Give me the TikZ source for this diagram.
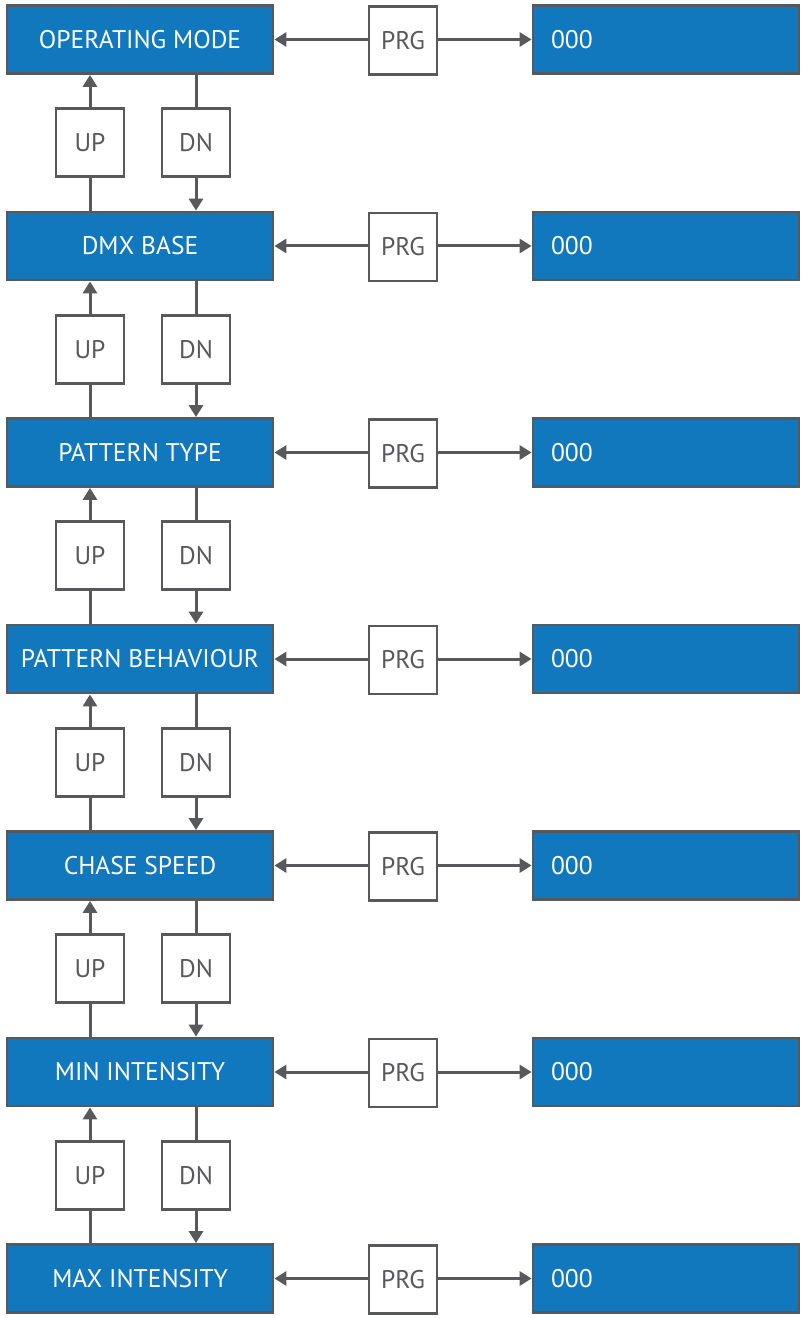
\documentclass[tikz,border=0pt]{standalone}
\usepackage{fontspec}
\setmainfont{PT Sans}
\usetikzlibrary{arrows.meta,positioning}
\definecolor{dblue}{HTML}{1178BE}
\definecolor{dgray}{HTML}{58595B}
\tikzset{
  mainbox/.style={draw=dgray,line width=2.8bp,fill=dblue,text=white,minimum width=266bp,minimum height=68bp,inner sep=0pt,font=\fontsize{25.5bp}{27bp}\selectfont},
  valbox/.style={draw=dgray,line width=2.8bp,fill=dblue,text=white,minimum width=266bp,minimum height=68bp,inner sep=0pt,text width=248bp,align=left,font=\fontsize{25.5bp}{27bp}\selectfont},
  keybox/.style={draw=dgray,line width=2.8bp,fill=white,text=dgray,minimum width=68bp,minimum height=68bp,inner sep=0pt,font=\fontsize{25.5bp}{27bp}\selectfont},
  conn/.style={draw=dgray,line width=3bp},
  arr/.style={conn,-{Triangle[width=14bp,length=12bp]}},
}
\begin{document}
\begin{tikzpicture}[x=1bp,y=-1bp]
\useasboundingbox (0,0) rectangle (802,1319);
\def\labels{{"OPERATING MODE","DMX BASE","PATTERN TYPE","PATTERN BEHAVIOUR","CHASE SPEED","MIN INTENSITY","MAX INTENSITY"}}
\foreach \i [evaluate=\i as \cy using 39.5+\i*206.5] in {0,...,6}{
  \pgfmathsetmacro{\lab}{\labels[\i]}
  \node[mainbox] (m\i) at (140,\cy) {\raisebox{-1bp}{\lab}};
  \node[keybox] (p\i) at (403,\cy+1) {\raisebox{-1bp}{PRG}};
  \node[valbox] (v\i) at (666,\cy) {\hspace*{9bp}\raisebox{-1bp}{000}};
  \draw[arr] (p\i.west |- m\i.east) -- (m\i.east);
  \draw[arr] (p\i.east |- v\i.west) -- (v\i.west);
}
\foreach \i [evaluate=\i as \cy using 39.5+\i*206.5+103.25] in {0,...,5}{
  \pgfmathtruncatemacro{\j}{\i+1}
  \node[keybox] (u\i) at (90,\cy) {\raisebox{-1bp}{UP}};
  \node[keybox] (d\i) at (196,\cy) {\raisebox{-1bp}{DN}};
  \draw[arr] (u\i.north) -- (u\i.north |- m\i.south);
  \draw[conn] (u\i.south) -- (u\i.south |- m\j.north);
  \draw[conn] (d\i.north |- m\i.south) -- (d\i.north);
  \draw[arr] (d\i.south) -- (d\i.south |- m\j.north);
}
\end{tikzpicture}
\end{document}
